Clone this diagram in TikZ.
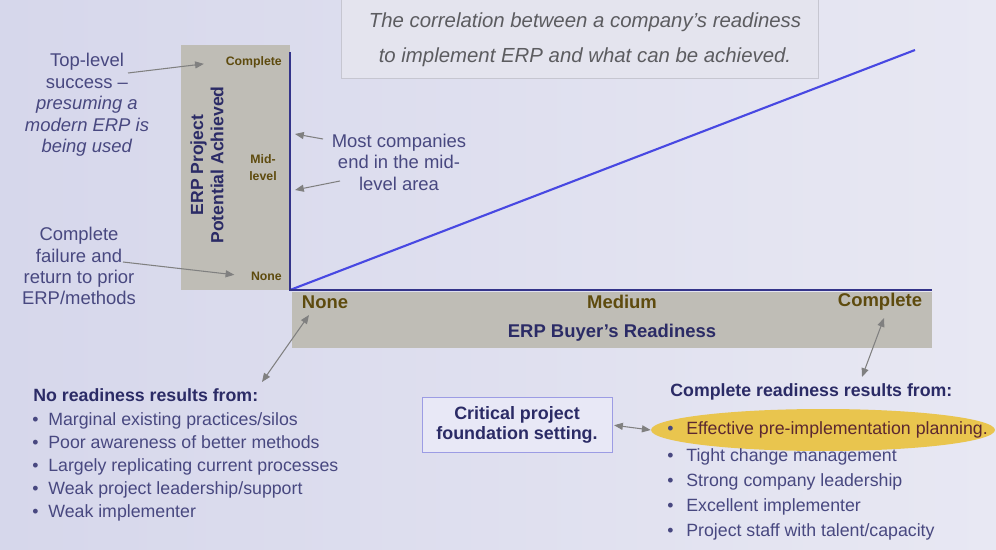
\documentclass[tikz,border=0pt]{standalone}
\usepackage{fontspec}
\setmainfont{Liberation Sans}
\usetikzlibrary{arrows.meta,shapes.geometric}

\definecolor{bgA}{RGB}{214,215,235}
\definecolor{bgB}{RGB}{232,232,243}
\definecolor{navy}{RGB}{43,43,102}
\definecolor{notetext}{RGB}{72,72,128}
\definecolor{olive}{RGB}{94,75,14}
\definecolor{axisblue}{RGB}{52,52,138}
\definecolor{trendblue}{RGB}{72,72,226}
\definecolor{greybox}{RGB}{191,189,182}
\definecolor{arrowgrey}{RGB}{128,128,128}
\definecolor{titlegrey}{RGB}{92,92,96}
\definecolor{titlefill}{RGB}{228,228,238}
\definecolor{titleline}{RGB}{198,198,208}
\definecolor{critline}{RGB}{156,156,228}
\definecolor{critfill}{RGB}{232,232,246}
\definecolor{gold}{RGB}{233,197,78}
\definecolor{darkred}{RGB}{92,40,48}

\begin{document}
\begin{tikzpicture}[x=0.02cm,y=-0.02cm,
    note/.style={text=notetext,align=center,font=\fontsize{10.5}{12.2}\selectfont},
    lvl/.style={text=olive,font=\bfseries\fontsize{7}{9.6}\selectfont},
    axlbl/.style={text=olive,font=\bfseries\fontsize{10.5}{12}\selectfont},
    head/.style={anchor=west,inner sep=0pt,text=navy,font=\bfseries\fontsize{10.1}{12}\selectfont},
    item/.style={anchor=west,inner sep=0pt,text=notetext,text height=8pt,text depth=2pt,font=\fontsize{10.1}{12}\selectfont},
    ptr/.style={draw=arrowgrey,line width=0.6pt,-{Triangle[length=5pt,width=4pt]}},
    bothptr/.style={draw=arrowgrey,line width=0.6pt,{Triangle[length=5pt,width=4pt]}-{Triangle[length=5pt,width=4pt]}}]

        % page and title
        \shade[left color=bgA,right color=bgB] (0,0) rectangle (996,550);
        \useasboundingbox (0,0) rectangle (996,550);
        \filldraw[fill=titlefill,draw=titleline] (341,-4) rectangle (818,78);
        \node at (585,40) [text=titlegrey,align=center,font=\itshape\fontsize{11.6}{19.8}\selectfont] (t100) {The correlation between a company’s readiness\\to implement ERP and what can be achieved.};

        % grey label strips
        \fill[greybox] (181,45) rectangle (290,290);
        \fill[greybox] (292,292) rectangle (932,348);

        % axes and trend
        \coordinate (o) at (290,290);
        \coordinate (ytop) at (290,52);
        \coordinate (xend) at (932,290);
        \coordinate (tend) at (915,50);
        \draw[trendblue,line width=1.2pt] (o)--(tend);
        \draw[axisblue,line width=1.7pt] (ytop)--(o)--(xend);

        \node at (288,62) [lvl,anchor=east] (y300) {Complete};
        \node at (263,168) [lvl,align=center] (y200) {Mid-\\level};
        \node at (288,276) [lvl,anchor=east] (y100) {None};
        \node at (207,165) [rotate=90,text=navy,align=center,font=\bfseries\fontsize{10}{11.5}\selectfont] (yname) {ERP Project\\Potential Achieved};

        \node at (325,302) [axlbl] (x100) {None};
        \node at (622,302) [axlbl] (x200) {Medium};
        \node at (880,302) [axlbl] (x300) {Complete};
        \node at (612,333) [text=navy,font=\bfseries\fontsize{10.5}{12}\selectfont] (xname) {ERP Buyer’s Readiness};

        % side notes
        \node at (87,105) [note] (n100) {Top-level\\success –\\\textit{presuming a}\\\textit{modern ERP is}\\\textit{being used}};
        \node at (79,266) [note,font=\fontsize{10.5}{12}\selectfont] (n200) {Complete\\failure and\\return to prior\\ERP/methods};
        \node at (399,162) [note] (n300) {Most companies\\end in the mid-\\level area};

        \coordinate (p100) at (128,73);
        \coordinate (p200) at (123,262);
        \coordinate (p300) at (323,139);
        \coordinate (q300) at (295,134);
        \coordinate (p400) at (340,181);
        \coordinate (q400) at (295,190);
        \draw[ptr,shorten >=9pt] (p100)--(y300.west);
        \draw[ptr,shorten >=6pt] (p200)--(y100.west);
        \draw[ptr] (p300)--(q300);
        \draw[ptr] (p400)--(q400);

        % no readiness list
        \node at (33,395) [head] (h100) {No readiness results from:};
        \foreach \txt [count=\i] in {Marginal existing practices/silos,Poor awareness of better methods,Largely replicating current processes,Weak project leadership/support,Weak implementer}
            \node at (32,{420+23.1*(\i-1)}) [item] (l\i) {\makebox[9.1pt][l]{•}\txt};

        \coordinate (p500) at (262,382);
        \coordinate (q500) at (309,315);
        \draw[bothptr] (p500)--(q500);

        % complete readiness list
        \node at (823,430) [ellipse,fill=gold,minimum width=6.88cm,minimum height=0.84cm] (e100) {};
        \node at (670,392) [head] (h200) {Complete readiness results from:};
        \node at (667,429) [item,text=darkred] (r1) {\makebox[10.8pt][l]{\textcolor{notetext}{•}}Effective pre-implementation planning.};
        \foreach \txt [count=\i from 2] in {Tight change management,Strong company leadership,Excellent implementer,Project staff with talent/capacity}
            \node at (667,{456+25*(\i-2)}) [item] (r\i) {\makebox[10.8pt][l]{•}\txt};

        \coordinate (p600) at (884,318);
        \coordinate (q600) at (862,377);
        \draw[bothptr] (p600)--(q600);

        \node at (517,425) [draw=critline,fill=critfill,minimum width=3.8cm,minimum height=1.1cm,align=center,text=navy,font=\bfseries\fontsize{10.2}{11.8}\selectfont] (c100) {Critical project\\foundation setting.};
        \draw[bothptr,shorten <=1pt] (c100.east)--(e100.west);

    \end{tikzpicture}
\end{document}
